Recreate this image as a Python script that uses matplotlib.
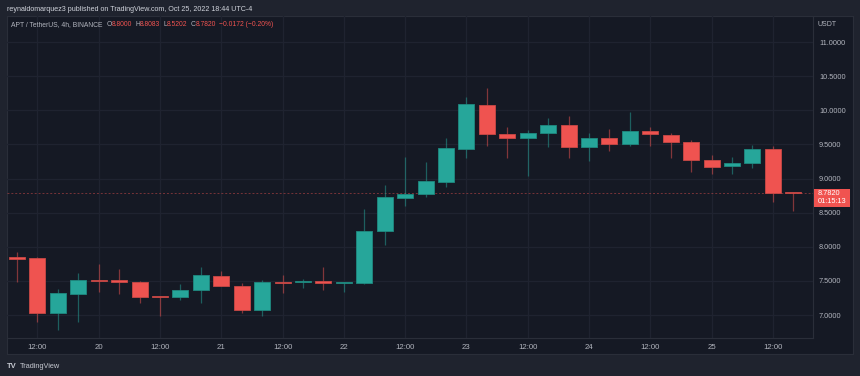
import matplotlib
matplotlib.use("Agg")
import matplotlib.pyplot as plt
from matplotlib.patches import Rectangle

# ---- data (4h candles, APT/USDT, Oct 19 08:00 .. Oct 25 16:00) ----
opens = [7.85, 7.83, 7.03, 7.31, 7.52, 7.51, 7.49, 7.28, 7.26, 7.36, 7.57, 7.43, 7.07,
         7.49, 7.485, 7.50, 7.475, 7.475, 8.23, 8.71, 8.77, 8.95, 9.43, 10.08, 9.65, 9.59,
         9.67, 9.78, 9.46, 9.59, 9.50, 9.69, 9.64, 9.53, 9.27, 9.18, 9.22, 9.43, 8.80]
highs = [7.92, 7.85, 7.38, 7.61, 7.75, 7.67, 7.50, 7.28, 7.45, 7.70, 7.65, 7.47, 7.51,
         7.58, 7.53, 7.70, 7.49, 8.55, 8.90, 9.32, 9.24, 9.60, 10.19, 10.33, 9.75, 9.71,
         9.89, 9.92, 9.66, 9.72, 9.97, 9.75, 9.66, 9.57, 9.34, 9.31, 9.49, 9.47, 8.8083]
lows = [7.49, 6.90, 6.78, 6.90, 7.34, 7.31, 7.18, 6.99, 7.22, 7.18, 7.42, 7.03, 6.99,
        7.32, 7.39, 7.36, 7.34, 7.46, 8.03, 8.59, 8.73, 8.88, 9.30, 9.48, 9.30, 9.03,
        9.46, 9.30, 9.25, 9.40, 9.48, 9.47, 9.30, 9.10, 9.06, 9.07, 9.16, 8.65, 8.5202]
closes = [7.82, 7.03, 7.32, 7.52, 7.50, 7.48, 7.26, 7.26, 7.37, 7.58, 7.43, 7.07, 7.49,
          7.47, 7.50, 7.475, 7.49, 8.23, 8.73, 8.78, 8.96, 9.44, 10.09, 9.65, 9.59, 9.67,
          9.78, 9.46, 9.59, 9.50, 9.70, 9.65, 9.53, 9.27, 9.17, 9.22, 9.43, 8.79, 8.782]

x_tick_pos = [1, 4, 7, 10, 13, 16, 19, 22, 25, 28, 31, 34, 37]
x_tick_labels = ["12:00", "20", "12:00", "21", "12:00", "22", "12:00", "23",
                 "12:00", "24", "12:00", "25", "12:00"]
y_ticks = [7.0, 7.5, 8.0, 8.5, 9.0, 9.5, 10.0, 10.5, 11.0]
last_price = 8.782
countdown = "01:15:13"
title_line = "reynaldomarquez3 published on TradingView.com, Oct 25, 2022 18:44 UTC-4"
symbol_text = "APT / TetherUS, 4h, BINANCE"
ohlc_labels = ["O", "H", "L", "C"]
ohlc_values = ["8.8000", "8.8083", "8.5202", "8.7820"]
change_text = "\u22120.0172 (\u22120.20%)"

# ---- style ----
OUTER = "#1f232e"
BG = "#151924"
GRID = "#1f2330"
BORDER = "#2a2e39"
TXT = "#b2b5be"
UP = "#26a69a"
DOWN = "#ef5350"
UP_EDGE = "#1f8a80"
DOWN_EDGE = "#c94845"
FONT = "Liberation Sans"
plt.rcParams["font.family"] = [FONT, "DejaVu Sans"]

W, H = 860, 376
fig = plt.figure(figsize=(W / 100, H / 100), dpi=100, facecolor=OUTER)

def fx(px):
    return px / W

def fy(py):
    return 1 - py / H

# panel background
panel_l, panel_r, panel_t, panel_b = 7, 853, 16, 354
bg = fig.add_axes([fx(panel_l), fy(panel_b), fx(panel_r - panel_l), (panel_b - panel_t) / H])
bg.set_facecolor(BG)
bg.set_xticks([]); bg.set_yticks([])
for s in bg.spines.values():
    s.set_color(BORDER); s.set_linewidth(0.8)
bg.set_zorder(0)

# main axes
ax_l, ax_r, ax_t, ax_b = 7, 812.7, 16, 338
ax = fig.add_axes([fx(ax_l), fy(ax_b), fx(ax_r - ax_l), (ax_b - ax_t) / H])
ax.set_facecolor("none")
ax.set_zorder(1)
ax.set_xlim(-0.49, 38.95)
ax.set_ylim(6.663, 11.381)

for s in ["top", "left"]:
    ax.spines[s].set_visible(False)
ax.spines["right"].set_color(BORDER); ax.spines["right"].set_linewidth(0.8)
ax.spines["bottom"].set_color(BORDER); ax.spines["bottom"].set_linewidth(0.8)

# grid
for yv in y_ticks:
    ax.axhline(yv, color=GRID, lw=0.9, zorder=0)
for xv in x_tick_pos:
    ax.axvline(xv, color=GRID, lw=0.9, zorder=0)

# candles
n = len(opens)
bw = 0.78
for i in range(n):
    o, h, l, c = opens[i], highs[i], lows[i], closes[i]
    up = c >= o
    col = UP if up else DOWN
    ecol = UP_EDGE if up else DOWN_EDGE
    ax.vlines(i, l, h, color=col, lw=0.9, alpha=0.5, zorder=2)
    bottom = min(o, c)
    height = max(abs(c - o), 0.012)
    ax.bar(i, height, bottom=bottom, width=bw, color=col, edgecolor=ecol,
           linewidth=0.6, zorder=3)

# last price dashed line
ax.axhline(last_price, color=DOWN, lw=0.7, alpha=0.45, ls=(0, (2, 2)), zorder=1)

# axes ticks
ax.yaxis.tick_right()
ax.set_yticks(y_ticks)
ax.set_yticklabels([f"{v:.4f}" for v in y_ticks], fontsize=5.3, color=TXT)
ax.tick_params(axis="y", length=0, pad=4.5)
ax.set_xticks(x_tick_pos)
ax.set_xticklabels(x_tick_labels, fontsize=5.6, color=TXT)
ax.tick_params(axis="x", length=0, pad=4.2)

# price label box on axis
box_y0, box_y1 = 188.7, 206.7
fig.patches.append(Rectangle((fx(813.5), fy(box_y1)), fx(850 - 813.5), (box_y1 - box_y0) / H,
                             transform=fig.transFigure, facecolor="#f05350",
                             edgecolor="none", zorder=5))
fig.text(fx(818), fy(193.5), f"{last_price:.4f}", fontsize=5.3, color="white",
         va="center", ha="left", zorder=6)
fig.text(fx(818), fy(201.8), countdown, fontsize=5.3, color="white",
         va="center", ha="left", zorder=6)
fig.text(fx(818), fy(24), "USDT", fontsize=5.0, color=TXT, va="center", ha="left")

# header
fig.text(fx(7), fy(9.3), title_line, fontsize=5.1, color="#d1d4dc", va="center", ha="left")

fig.canvas.draw()
renderer = fig.canvas.get_renderer()

def chain(x_px, s, color, gap=0.0):
    t = fig.text(fx(x_px), fy(25), s, fontsize=4.9, color=color, va="center", ha="left", zorder=6)
    bb = t.get_window_extent(renderer=renderer)
    return bb.x1 + gap

xp = chain(11, symbol_text, TXT, 4)
for lab, val in zip(ohlc_labels, ohlc_values):
    xp = chain(xp, lab, TXT)
    xp = chain(xp, val, DOWN, 3)
chain(xp, change_text, DOWN)

# logo
fig.text(fx(7), fy(366), "TV", fontsize=5.5, color="#c5c8d0", fontweight="bold",
         va="center", ha="left")
fig.text(fx(20), fy(366), "TradingView", fontsize=5.3, color="#c5c8d0",
         va="center", ha="left")

fig.savefig("out.png", dpi=100, facecolor=OUTER)
